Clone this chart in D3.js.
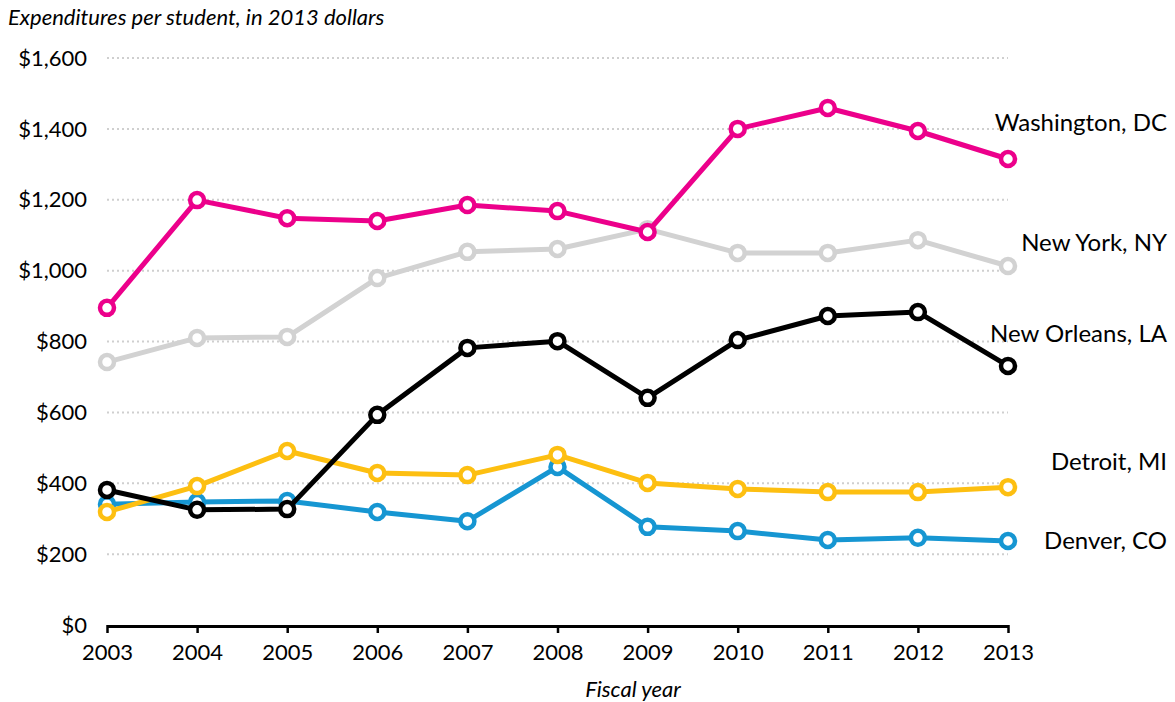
<!DOCTYPE html>
<html>
<head>
<meta charset="utf-8">
<script src="https://cdn.jsdelivr.net/npm/d3@7"></script>
<style>
  body { margin: 0; background: #fff; font-family: Lato, "Open Sans", sans-serif; }
</style>
</head>
<body>
<div id="chart"></div>
<script>
const years = [2003, 2004, 2005, 2006, 2007, 2008, 2009, 2010, 2011, 2012, 2013];
const yTicks = [0, 200, 400, 600, 800, 1000, 1200, 1400, 1600];

const washington = [895, 1199, 1148, 1140, 1185, 1168, 1109, 1400, 1459, 1394, 1315];
const newYork    = [742, 810, 813, 979, 1053, 1061, 1117, 1050, 1050, 1086, 1013];
const newOrleans = [381, 325, 327, 593, 782, 801, 641, 804, 872, 883, 731];
const detroit    = [319, 392, 491, 429, 423, 480, 401, 384, 375, 375, 389];
const denver     = [341, 347, 350, 319, 293, 446, 277, 265, 240, 246, 237];

const seriesNames = ["New York, NY", "Denver, CO", "Detroit, MI", "New Orleans, LA", "Washington, DC"];
const seriesValues = [newYork, denver, detroit, newOrleans, washington];
const seriesColors = ["#d2d2d2", "#1696d2", "#fdbf11", "#000000", "#ec008b"];
// label baseline offsets (px) from the last point, to match the reference
const labelDy = [-15, 8, -17, -24, -28];

const width = 1175, height = 702;
const margin = { top: 58, right: 167, bottom: 77, left: 107 };

const x = d3.scaleLinear()
    .domain([2003, 2013])
    .range([margin.left, width - margin.right]);
const y = d3.scaleLinear()
    .domain([0, 1600])
    .range([height - margin.bottom, margin.top]);

const svg = d3.select("#chart").append("svg")
    .attr("width", width)
    .attr("height", height);

// gridlines
svg.append("g")
    .selectAll("line")
    .data(yTicks.filter(d => d > 0))
    .enter().append("line")
    .attr("x1", x(2003))
    .attr("x2", x(2013))
    .attr("y1", d => y(d))
    .attr("y2", d => y(d))
    .attr("stroke", "#cfcfcf")
    .attr("stroke-width", 2)
    .attr("stroke-dasharray", "2,3");

// y tick labels
svg.append("g")
    .selectAll("text")
    .data(yTicks)
    .enter().append("text")
    .attr("x", 87)
    .attr("y", d => y(d))
    .attr("dy", "0.35em")
    .attr("text-anchor", "end")
    .attr("font-size", 22)
    .attr("fill", "#000")
    .text(d => "$" + d3.format(",")(d));

// x axis
const xAxis = svg.append("g")
    .attr("transform", `translate(0,${y(0)})`)
    .call(d3.axisBottom(x).tickValues(years).tickFormat(d3.format("d")).tickSize(8).tickPadding(11));
xAxis.select(".domain").attr("stroke", "#000").attr("stroke-width", 3).attr("d", `M${x(2003)},1.5H${x(2013)}`);
xAxis.selectAll(".tick line").attr("stroke", "#000").attr("stroke-width", 2.5);
xAxis.selectAll(".tick text")
    .attr("font-size", 22)
    .attr("font-family", "Lato, sans-serif")
    .attr("fill", "#000");

// titles
svg.append("text")
    .attr("x", 8)
    .attr("y", 25)
    .attr("font-size", 22)
    .attr("font-style", "italic")
    .attr("fill", "#000")
    .text("Expenditures per student, in 2013 dollars");

svg.append("text")
    .attr("x", 633)
    .attr("y", 697)
    .attr("text-anchor", "middle")
    .attr("font-size", 22)
    .attr("font-style", "italic")
    .attr("fill", "#000")
    .text("Fiscal year");

const line = d3.line()
    .x((d, i) => x(years[i]))
    .y(d => y(d));

seriesValues.forEach((vals, s) => {
    const g = svg.append("g");
    g.append("path")
        .datum(vals)
        .attr("fill", "none")
        .attr("stroke", seriesColors[s])
        .attr("stroke-width", 5)
        .attr("stroke-linejoin", "round")
        .attr("d", line);
    g.selectAll("circle")
        .data(vals)
        .enter().append("circle")
        .attr("cx", (d, i) => x(years[i]))
        .attr("cy", d => y(d))
        .attr("r", 7)
        .attr("fill", "#fff")
        .attr("stroke", seriesColors[s])
        .attr("stroke-width", 4.5);
    g.append("text")
        .attr("x", 1167)
        .attr("y", y(vals[vals.length - 1]) + labelDy[s])
        .attr("text-anchor", "end")
        .attr("font-size", 24)
        .attr("fill", "#000")
        .text(seriesNames[s]);
});
</script>
</body>
</html>
